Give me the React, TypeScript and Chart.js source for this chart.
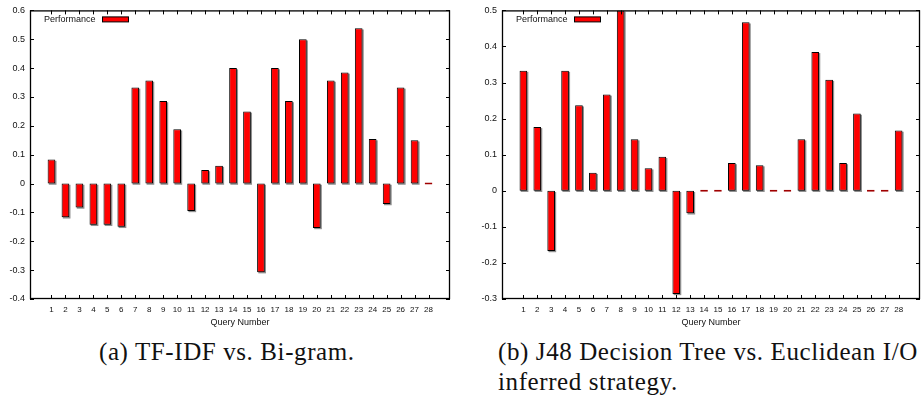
import React, { useEffect, useRef } from "react";
import { Chart, registerables } from "chart.js";

Chart.register(...registerables);

// ---------- data ----------
const queries = [1, 2, 3, 4, 5, 6, 7, 8, 9, 10, 11, 12, 13, 14, 15, 16, 17, 18, 19, 20, 21, 22, 23, 24, 25, 26, 27, 28];
const tfidfVsBigram = [0.083, -0.117, -0.083, -0.143, -0.143, -0.15, 0.333, 0.357, 0.286, 0.188, -0.095, 0.047, 0.062, 0.4, 0.25, -0.307, 0.4, 0.286, 0.5, -0.154, 0.357, 0.385, 0.538, 0.154, -0.071, 0.333, 0.15, 0];
const j48VsEuclidean = [0.333, 0.177, -0.167, 0.333, 0.237, 0.05, 0.267, 0.5, 0.143, 0.0625, 0.094, -0.286, -0.0625, 0, 0, 0.077, 0.467, 0.071, 0, 0, 0.143, 0.385, 0.308, 0.077, 0.214, 0, 0, 0.167];
const yTicksA = [-0.4, -0.3, -0.2, -0.1, 0, 0.1, 0.2, 0.3, 0.4, 0.5, 0.6];
const yTickLabelsA = ["-0.4", "-0.3", "-0.2", "-0.1", "0", "0.1", "0.2", "0.3", "0.4", "0.5", "0.6"];
const yTicksB = [-0.3, -0.2, -0.1, 0, 0.1, 0.2, 0.3, 0.4, 0.5];
const yTickLabelsB = ["-0.3", "-0.2", "-0.1", "0", "0.1", "0.2", "0.3", "0.4", "0.5"];
const seriesLabel = "Performance";
const xTitle = "Query Number";
const captionA = "(a) TF-IDF vs. Bi-gram.";
const captionB1 = "(b) J48 Decision Tree vs. Euclidean I/O";
const captionB2 = "inferred strategy.";

const SANS = "'Liberation Sans', Arial, Helvetica, sans-serif";
const SERIF = "'Liberation Serif', 'Times New Roman', serif";

const gnuplotLook = {
  id: "gnuplotLook",
  beforeDatasetsDraw(chart: any) {
    const ctx = chart.ctx;
    const a = chart.chartArea;
    const meta = chart.getDatasetMeta(0);
    const data = chart.data.datasets[0].data;
    ctx.save();
    ctx.beginPath();
    ctx.rect(a.left, a.top, a.right - a.left, a.bottom - a.top);
    ctx.clip();
    ctx.fillStyle = "#8f8f8f";
    meta.data.forEach((bar: any, i: number) => {
      if (data[i].y === 0) return;
      const p = bar.getProps(["x", "y", "base", "width"], true);
      const top = Math.min(p.y, p.base);
      const h = Math.abs(p.base - p.y);
      ctx.fillRect(p.x - p.width / 2 + 1.2, top + 1.2, p.width, h);
    });
    ctx.restore();
  },
  afterDraw(chart: any) {
    const ctx = chart.ctx;
    const a = chart.chartArea;
    const xs = chart.scales.x;
    const ys = chart.scales.y;
    ctx.save();
    ctx.strokeStyle = "#000";
    ctx.lineWidth = 1;
    // inward ticks, mirrored
    ctx.beginPath();
    xs.ticks.forEach((t: any) => {
      const px = Math.round(xs.getPixelForValue(t.value)) + 0.5;
      ctx.moveTo(px, a.bottom);
      ctx.lineTo(px, a.bottom - 4);
      ctx.moveTo(px, a.top);
      ctx.lineTo(px, a.top + 4);
    });
    ys.ticks.forEach((t: any) => {
      const py = Math.round(ys.getPixelForValue(t.value)) + 0.5;
      ctx.moveTo(a.left, py);
      ctx.lineTo(a.left + 4, py);
      ctx.moveTo(a.right, py);
      ctx.lineTo(a.right - 4, py);
    });
    ctx.stroke();
    // frame
    ctx.lineWidth = 1.3;
    ctx.strokeRect(a.left + 0.5, a.top + 0.5, a.right - a.left - 1, a.bottom - a.top - 1);
    // key (legend) inside the plot, text then sample
    const label = chart.data.datasets[0].label;
    ctx.font = "9px " + SANS;
    ctx.fillStyle = "#111";
    ctx.textAlign = "left";
    ctx.textBaseline = "middle";
    ctx.fillText(label, a.left + 14, a.top + 9.5);
    ctx.fillStyle = "#ff0000";
    ctx.fillRect(a.left + 72, a.top + 6.5, 26, 5);
    ctx.lineWidth = 1;
    ctx.strokeRect(a.left + 72.5, a.top + 6.5, 26, 5);
    ctx.restore();
  },
};

type PanelProps = {
  values: number[];
  yTicks: number[];
  yTickLabels: string[];
  left: number;
  width: number;
  axisWidth: number;
  padRight: number;
};

function BarPanel({ values, yTicks, yTickLabels, left, width, axisWidth, padRight }: PanelProps) {
  const ref = useRef<HTMLCanvasElement | null>(null);
  useEffect(() => {
    if (!ref.current) return;
    const points = queries.map((q, i) => ({ x: q, y: values[i] }));
    const chart = new Chart(ref.current, {
      type: "bar",
      data: {
        datasets: [
          {
            label: seriesLabel,
            data: points as any,
            backgroundColor: "#ff0000",
            borderColor: (c: any) => (c.raw && c.raw.y === 0 ? "#a00000" : "#000000"),
            borderWidth: 1,
            borderSkipped: false,
            minBarLength: 2,
            barPercentage: 0.55,
            categoryPercentage: 1,
          } as any,
        ],
      },
      options: {
        responsive: false,
        animation: false,
        devicePixelRatio: 1,
        layout: { padding: { left: 0, top: 7, right: padRight, bottom: 0 } },
        plugins: { legend: { display: false }, tooltip: { enabled: false } },
        scales: {
          x: {
            type: "linear",
            min: 0,
            max: queries.length + 1,
            grid: { display: false, drawTicks: false },
            border: { display: false },
            afterBuildTicks: (s: any) => {
              s.ticks = queries.map((q) => ({ value: q }));
            },
            afterFit: (s: any) => {
              s.height = 31;
            },
            ticks: {
              autoSkip: false,
              maxRotation: 0,
              padding: 6,
              color: "#111",
              font: { family: SANS, size: 8 },
              callback: (v: any) => String(v),
            },
            title: {
              display: true,
              text: xTitle,
              color: "#111",
              font: { family: SANS, size: 9 },
              padding: { top: 0, bottom: 2 },
            },
          },
          y: {
            type: "linear",
            min: yTicks[0],
            max: yTicks[yTicks.length - 1],
            grid: { display: false, drawTicks: false },
            border: { display: false },
            afterBuildTicks: (s: any) => {
              s.ticks = yTicks.map((v) => ({ value: v }));
            },
            afterFit: (s: any) => {
              s.width = axisWidth;
            },
            ticks: {
              padding: 5,
              color: "#111",
              font: { family: SANS, size: 9 },
              callback: (_v: any, i: number) => yTickLabels[i],
            },
          },
        },
      } as any,
      plugins: [gnuplotLook],
    });
    return () => chart.destroy();
  }, []);
  return (
    <canvas
      ref={ref}
      width={width}
      height={330}
      style={{ position: "absolute", left, top: 0, width, height: 330 }}
    />
  );
}

export default function App() {
  const capStyle: React.CSSProperties = {
    position: "absolute",
    fontFamily: SERIF,
    fontSize: 25,
    lineHeight: "30px",
    letterSpacing: "0.6px",
    color: "#111",
    whiteSpace: "nowrap",
  };
  return (
    <div
      style={{
        position: "absolute",
        left: 0,
        top: 0,
        width: 921,
        height: 398,
        overflow: "hidden",
        background: "#fff",
      }}
    >
      <BarPanel values={tfidfVsBigram} yTicks={yTicksA} yTickLabels={yTickLabelsA} left={0} width={460} axisWidth={30} padRight={10} />
      <BarPanel values={j48VsEuclidean} yTicks={yTicksB} yTickLabels={yTickLabelsB} left={460} width={461} axisWidth={42} padRight={1} />
      <div style={{ ...capStyle, left: 99, top: 337 }}>{captionA}</div>
      <div style={{ ...capStyle, left: 498, top: 337 }}>
        {captionB1}
        <br />
        {captionB2}
      </div>
    </div>
  );
}
